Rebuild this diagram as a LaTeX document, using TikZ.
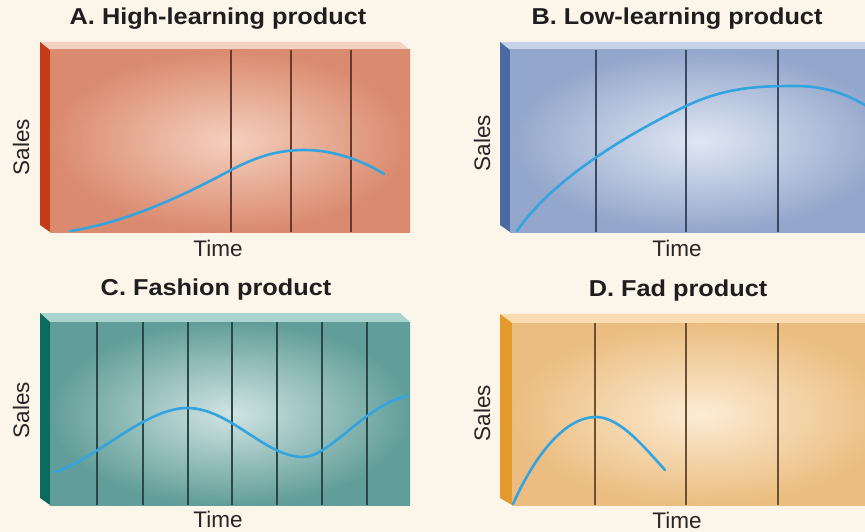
\documentclass[tikz,border=0pt]{standalone}
\usepackage{fontspec}
\setmainfont{Liberation Sans}
\definecolor{bgcream}{HTML}{FCF5EA}
\definecolor{curveblue}{HTML}{33A4DF}
\definecolor{titlecol}{HTML}{1E1E1E}
\definecolor{axiscol}{HTML}{262626}
% panel A
\definecolor{atop}{HTML}{F4D2C2}
\definecolor{aside}{HTML}{C43C16}
\definecolor{ain}{HTML}{F4D0BE}
\definecolor{aout}{HTML}{DA8A6E}
\definecolor{aline}{HTML}{6A3A2E}
% panel B
\definecolor{btop}{HTML}{C6D2E8}
\definecolor{bside}{HTML}{4B6AA2}
\definecolor{bin}{HTML}{E0E7F3}
\definecolor{bout}{HTML}{93A6CB}
\definecolor{bline}{HTML}{3A4860}
% panel C
\definecolor{ctop}{HTML}{A9D3CE}
\definecolor{cside}{HTML}{0B6B5E}
\definecolor{cin}{HTML}{D0E4E3}
\definecolor{cout}{HTML}{629E99}
\definecolor{cline}{HTML}{2C4846}
% panel D
\definecolor{dtop}{HTML}{F9DDB0}
\definecolor{dside}{HTML}{E39A2C}
\definecolor{din}{HTML}{FCECD4}
\definecolor{dout}{HTML}{EBBD80}
\definecolor{dline}{HTML}{6C5032}
\begin{document}
\begin{tikzpicture}[x=1pt,y=-1pt,
  paneltitle/.style={font=\bfseries\fontsize{23}{26}\selectfont, text=titlecol, inner sep=0pt},
  axislabel/.style={font=\fontsize{22.5}{25}\selectfont, text=axiscol, inner sep=0pt},
  salescurve/.style={draw=curveblue, line width=2.6pt, line cap=round, line join=round},
  divider/.style={line width=1.6pt},
]
\useasboundingbox (0,0) rectangle (865,532);
\fill[bgcream] (0,0) rectangle (865,532);
\clip (0,0) rectangle (865,532);

% ---------- Panel A ----------
\fill[atop] (40,42) -- (400,42) -- (410,50) -- (50,50) -- cycle;
\fill[aside] (40,42) -- (50,50) -- (50,232) -- (40,225) -- cycle;
\shade[inner color=ain, outer color=aout] (50,50) rectangle (410,232);
\foreach \x in {231,291,351} \draw[divider, draw=aline] (\x,50) -- (\x,232);
\draw[salescurve] (70,231) .. controls (130,222) and (190,192) .. (231,170)
  .. controls (260,155) and (280,150) .. (305,150)
  .. controls (335,150) and (365,162) .. (384,174);
\node[paneltitle] (titleA) at (218,19) {\scalebox{1.1}[1]{A. High-learning product}};
\node[axislabel, rotate=90] (salesA) at (21,147) {Sales};
\node[axislabel] (timeA) at (218,248) {Time};

% ---------- Panel B ----------
\fill[btop] (500,42) -- (880,42) -- (890,50) -- (510,50) -- cycle;
\fill[bside] (500,42) -- (510,50) -- (510,232) -- (500,225) -- cycle;
\shade[inner color=bin, outer color=bout] (510,50) rectangle (890,232);
\foreach \x in {596,686,778} \draw[divider, draw=bline] (\x,50) -- (\x,232);
\draw[salescurve] (517,231) .. controls (555,175) and (640,128) .. (686,106)
  .. controls (726,87) and (760,86) .. (795,86)
  .. controls (830,86) and (855,97) .. (880,115);
\node[paneltitle] (titleB) at (677,19) {\scalebox{1.1}[1]{B. Low-learning product}};
\node[axislabel, rotate=90] (salesB) at (482,143) {Sales};
\node[axislabel] (timeB) at (677,248) {Time};

% ---------- Panel C ----------
\fill[ctop] (40,313) -- (400,313) -- (410,322) -- (50,322) -- cycle;
\fill[cside] (40,313) -- (50,322) -- (50,505) -- (40,498) -- cycle;
\shade[inner color=cin, outer color=cout] (50,322) rectangle (410,505);
\foreach \x in {97,143,188,232,277,322,367} \draw[divider, draw=cline] (\x,322) -- (\x,505);
\draw[salescurve] (55,472) .. controls (95,460) and (145,408) .. (187,408)
  .. controls (230,408) and (265,457) .. (303,457)
  .. controls (330,457) and (365,405) .. (407,396);
\node[paneltitle] (titleC) at (216,290) {\scalebox{1.1}[1]{C. Fashion product}};
\node[axislabel, rotate=90] (salesC) at (21,410) {Sales};
\node[axislabel] (timeC) at (218,519) {Time};

% ---------- Panel D ----------
\fill[dtop] (500,314) -- (880,314) -- (890,323) -- (510,323) -- cycle;
\fill[dside] (500,314) -- (512,323) -- (512,505) -- (500,498) -- cycle;
\shade[inner color=din, outer color=dout] (512,323) rectangle (890,505);
\foreach \x in {595,686,778} \draw[divider, draw=dline] (\x,323) -- (\x,505);
\draw[salescurve] (513,504) .. controls (535,455) and (565,417) .. (596,417)
  .. controls (620,417) and (645,448) .. (665,470);
\node[paneltitle] (titleD) at (678,291) {\scalebox{1.1}[1]{D. Fad product}};
\node[axislabel, rotate=90] (salesD) at (482,413) {Sales};
\node[axislabel] (timeD) at (677,520) {Time};
\end{tikzpicture}
\end{document}
